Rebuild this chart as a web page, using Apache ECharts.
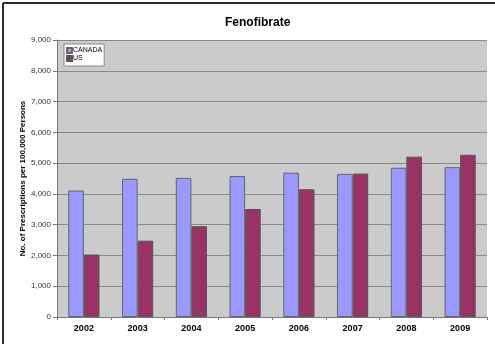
<!DOCTYPE html>
<html>
<head>
<meta charset="utf-8">
<script src="https://cdn.jsdelivr.net/npm/echarts@6/dist/echarts.min.js"></script>
<style>
  html, body { margin: 0; padding: 0; background: #fff; overflow: hidden; }
  #chart { width: 495px; height: 344px; }
</style>
</head>
<body>
<div id="chart"></div>
<script>
// Fenofibrate prescriptions per 100,000 persons, Canada vs US
const years = ['2002', '2003', '2004', '2005', '2006', '2007', '2008', '2009'];
const canada = [4110, 4490, 4520, 4580, 4690, 4650, 4850, 4870];
const us = [2030, 2480, 2950, 3510, 4150, 4660, 5210, 5270];

const chart = echarts.init(document.getElementById('chart'), null, { renderer: 'canvas' });
const font = 'Liberation Sans, Arial, sans-serif';

chart.setOption({
  animation: false,
  backgroundColor: '#ffffff',
  graphic: [
    // frame of the chart sheet (top and left edges visible)
    { type: 'line', shape: { x1: 3, y1: 3, x2: 495, y2: 3 },
      style: { stroke: '#2a2a2a', lineWidth: 2 }, z: 10 },
    { type: 'line', shape: { x1: 3, y1: 3, x2: 3, y2: 344 },
      style: { stroke: '#2a2a2a', lineWidth: 2 }, z: 10 }
  ],
  title: {
    text: 'Fenofibrate',
    left: 220,
    top: 12,
    textStyle: { fontFamily: font, fontSize: 12, fontWeight: 'bold', color: '#000' }
  },
  legend: {
    data: ['CANADA', 'US'],
    orient: 'vertical',
    left: 64,
    top: 44,
    backgroundColor: '#ffffff',
    borderColor: '#888',
    borderWidth: 1,
    borderRadius: 0,
    padding: [3, 2, 4, 2],
    itemWidth: 5,
    itemHeight: 5,
    itemGap: 1,
    icon: 'rect',
    textStyle: { fontFamily: font, fontSize: 7, lineHeight: 7, color: '#000', padding: [0, 0, 0, -4] }
  },
  grid: {
    left: 57, right: 8, top: 40, bottom: 27,
    show: true,
    backgroundColor: '#cbcbcb',
    borderWidth: 0
  },
  xAxis: {
    type: 'category',
    data: years,
    axisLine: { lineStyle: { color: '#777', width: 1 } },
    axisTick: { show: true, length: 3, lineStyle: { color: '#777' } },
    axisLabel: { fontFamily: font, fontSize: 9, fontWeight: 'bold', color: '#000', margin: 7 }
  },
  yAxis: {
    type: 'value',
    min: 0, max: 9000, interval: 1000,
    name: 'No. of Prescriptions per 100,000 Persons',
    nameLocation: 'middle',
    nameGap: 30,
    nameMoveOverlap: false,
    nameTextStyle: { fontFamily: font, fontSize: 8, fontWeight: 'bold', color: '#000' },
    axisLine: { show: true, lineStyle: { color: '#777' } },
    axisTick: { show: true, length: 4, lineStyle: { color: '#777' } },
    axisLabel: {
      fontFamily: font, fontSize: 8, color: '#333', margin: 6,
      formatter: v => v.toLocaleString('en-US')
    },
    splitLine: { lineStyle: { color: '#8a8a8a', width: 1 } }
  },
  series: [
    {
      name: 'CANADA', type: 'bar', data: canada,
      barGap: '0%', barCategoryGap: '42%',
      itemStyle: { color: '#9999ff', borderColor: '#666', borderWidth: 1 }
    },
    {
      name: 'US', type: 'bar', data: us,
      itemStyle: { color: '#993366', borderColor: '#555', borderWidth: 1 }
    }
  ]
});
</script>
</body>
</html>
